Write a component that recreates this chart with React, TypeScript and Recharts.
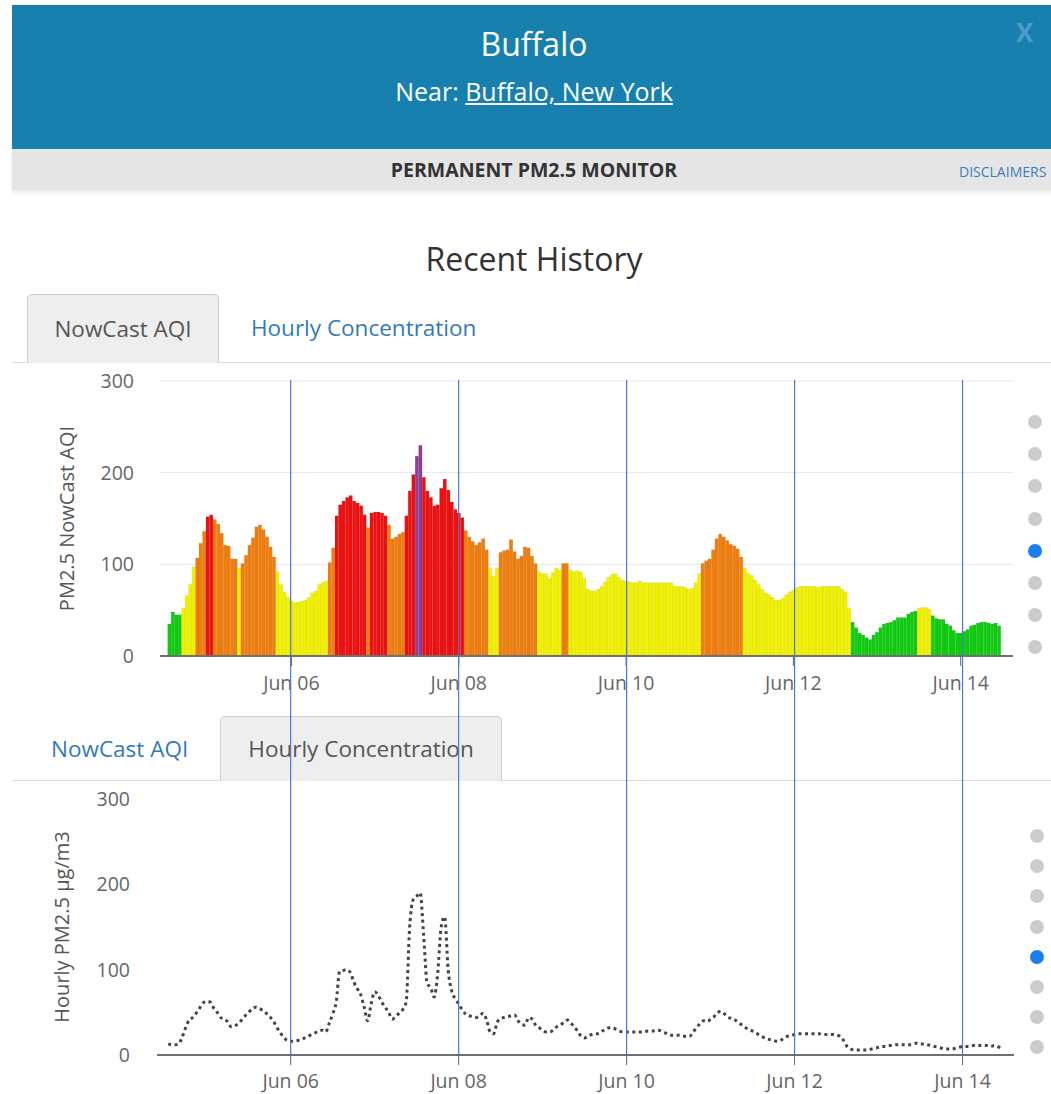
import React from 'react'
import { Bar, BarChart, CartesianGrid, Cell, Line, LineChart, ReferenceLine, XAxis, YAxis } from 'recharts'

// hours counted from Jun 04 00:00, one reading per hour
const startHour = 13

const nowcastAqi = [
  35, 48, 45, 45, 52, 66, 78, 97, 107, 123, 136, 152,
  154, 149, 144, 134, 121, 120, 106, 106, 96, 101, 110, 121,
  129, 141, 143, 138, 130, 119, 108, 92, 78, 70, 64, 60,
  58, 59, 60, 61, 64, 69, 71, 78, 80, 82, 102, 118,
  153, 165, 169, 173, 175, 169, 167, 164, 154, 140, 156, 157,
  157, 156, 153, 143, 128, 130, 133, 135, 153, 180, 198, 218,
  230, 195, 180, 173, 164, 165, 183, 193, 181, 168, 160, 156,
  151, 137, 130, 125, 121, 124, 128, 116, 96, 87, 96, 113,
  115, 116, 127, 114, 106, 109, 119, 118, 109, 101, 92, 90,
  90, 85, 91, 96, 94, 101, 101, 94, 92, 93, 92, 85,
  73, 71, 71, 73, 76, 81, 86, 89, 90, 86, 83, 82,
  81, 80, 80, 82, 80, 80, 80, 80, 80, 80, 80, 80,
  80, 76, 76, 76, 75, 73, 74, 80, 90, 101, 104, 106,
  116, 128, 133, 130, 126, 122, 120, 117, 108, 96, 90, 88,
  83, 78, 73, 69, 67, 64, 61, 61, 63, 67, 70, 72,
  75, 76, 76, 76, 76, 76, 75, 76, 76, 76, 76, 76,
  76, 73, 70, 52, 37, 31, 25, 23, 20, 18, 23, 26,
  31, 35, 36, 37, 39, 42, 42, 42, 46, 48, 49, 52,
  53, 53, 51, 44, 41, 40, 40, 35, 33, 28, 25, 25,
  27, 29, 33, 34, 36, 37, 37, 36, 35, 36, 33,
]

const hourlyPm25 = [
  13, 12, 12, 13, 21, 32, 41, 44, 49, 55, 61, 63,
  62, 55, 50, 44, 42, 39, 33, 34, 37, 41, 46, 50,
  54, 56, 55, 52, 49, 45, 40, 33, 26, 21, 17, 16,
  16, 17, 18, 20, 22, 24, 26, 28, 29, 27, 37, 48,
  62, 98, 99, 100, 97, 86, 78, 71, 56, 40, 60, 74,
  70, 62, 56, 50, 42, 45, 49, 53, 62, 150, 182, 186,
  190, 140, 84, 79, 68, 95, 150, 162, 100, 75, 66, 60,
  53, 48, 46, 45, 44, 46, 49, 41, 27, 25, 38, 43,
  44, 45, 46, 47, 40, 36, 35, 44, 42, 35, 32, 29,
  27, 27, 29, 33, 35, 38, 41, 38, 33, 28, 22, 20,
  22, 24, 25, 25, 28, 30, 32, 32, 30, 28, 27, 27,
  27, 27, 27, 27, 27, 28, 28, 28, 29, 28, 26, 24,
  23, 23, 23, 22, 22, 22, 27, 32, 37, 40, 39, 42,
  45, 50, 51, 48, 44, 43, 41, 38, 35, 32, 30, 28,
  26, 23, 21, 19, 18, 17, 16, 17, 20, 22, 23, 24,
  25, 25, 25, 25, 25, 25, 25, 24, 24, 24, 24, 23,
  22, 17, 10, 7, 6, 6, 6, 6, 6, 7, 8, 9,
  10, 10, 11, 11, 12, 12, 12, 12, 12, 13, 14, 13,
  13, 12, 11, 10, 9, 8, 7, 7, 7, 8, 9, 10,
  10, 10, 11, 11, 11, 11, 11, 10, 11, 10, 8,
]

const dayTicks = [48, 96, 144, 192, 240]
const dayLabels = ['Jun 06', 'Jun 08', 'Jun 10', 'Jun 12', 'Jun 14']
const valueTicks = [0, 100, 200, 300]

const data = nowcastAqi.map((aqi, i) => ({ hour: startHour + i, aqi, pm: hourlyPm25[i] }))

const aqiColor = (v: number) =>
  v > 200 ? '#8f3f97' : v > 150 ? '#ee1111' : v > 100 ? '#ef7e0e' : v > 50 ? '#f1f100' : '#10cc10'

const dayLabel = (v: number) => dayLabels[dayTicks.indexOf(v)] ?? ''

const tickStyle = { fill: '#666', fontSize: 19.5 }
const blue = '#337ab7'

// the lower chart draws the day markers and carries them up through the upper chart
const markerReach = 419

function DayMarker(props: any) {
  const { x1, y1, y2 } = props
  return (
    <line
      x1={x1}
      x2={x1}
      y1={Math.min(y1, y2) - markerReach}
      y2={Math.max(y1, y2)}
      stroke="#4a78d8"
      strokeWidth={1.2}
    />
  )
}

function PagerDots({ left, top, gap }: { left: number; top: number; gap: number }) {
  return (
    <div style={{ position: 'absolute', left, top }}>
      {[0, 1, 2, 3, 4, 5, 6, 7].map((i) => (
        <div
          key={i}
          style={{
            width: 14,
            height: 14,
            borderRadius: 7,
            background: i === 4 ? '#1a7fee' : '#cccccc',
            marginBottom: gap - 14,
          }}
        />
      ))}
    </div>
  )
}

const centered = (top: number, size: number, extra: React.CSSProperties = {}): React.CSSProperties => ({
  position: 'absolute',
  left: 12,
  width: 1044,
  top,
  textAlign: 'center',
  fontSize: size,
  lineHeight: `${Math.round(size * 1.4)}px`,
  whiteSpace: 'nowrap',
  ...extra,
})

export default function App() {
  return (
    <div
      style={{
        position: 'relative',
        width: 1051,
        height: 1094,
        overflow: 'hidden',
        background: '#fff',
        fontFamily: "'Open Sans', sans-serif",
      }}
    >
      <style>{`body{margin:0} .pm-chart .recharts-surface{overflow:visible}`}</style>

      <div style={{ position: 'absolute', left: 12, top: 5, width: 1044, height: 144, background: '#1780ae' }} />
      <div style={centered(21, 32, { color: '#fff' })}>Buffalo</div>
      <div style={centered(74, 25, { color: '#fff' })}>
        Near: <span style={{ textDecoration: 'underline' }}>Buffalo, New York</span>
      </div>
      <div style={{ position: 'absolute', left: 1016, top: 14, fontSize: 26, fontWeight: 700, color: '#4f9dc6' }}>X</div>

      <div style={{ position: 'absolute', left: 12, top: 149, width: 1044, height: 41, background: '#e5e5e5', boxShadow: '0 3px 4px rgba(0,0,0,0.08)' }} />
      <div style={centered(156, 19.5, { color: '#333', fontWeight: 700 })}>PERMANENT PM2.5 MONITOR</div>
      <div style={{ position: 'absolute', left: 959, top: 162, fontSize: 14, color: '#3b7dbf', whiteSpace: 'nowrap' }}>DISCLAIMERS</div>

      <div style={centered(236, 32, { color: '#333' })}>Recent History</div>

      {/* upper tabs */}
      <div style={{ position: 'absolute', left: 12, top: 362, width: 1039, height: 1, background: '#ddd' }} />
      <div
        style={{
          position: 'absolute', left: 27, top: 294, width: 190, height: 68, background: '#eee',
          border: '1px solid #ccc', borderBottom: 'none', borderRadius: '5px 5px 0 0',
          textAlign: 'center', lineHeight: '68px', fontSize: 22.5, color: '#555',
        }}
      >
        NowCast AQI
      </div>
      <div style={{ position: 'absolute', left: 251, top: 313, fontSize: 22.5, lineHeight: '30px', color: blue }}>Hourly Concentration</div>

      <div className="pm-chart" style={{ position: 'absolute', left: 0, top: 370 }}>
        <BarChart width={1051} height={340} data={data} margin={{ top: 11, right: 38, bottom: 14, left: 60 }}>
          <CartesianGrid vertical={false} stroke="#e6e6e6" />
          <XAxis
            type="number"
            dataKey="hour"
            domain={[10.3, 255]}
            allowDataOverflow
            ticks={dayTicks}
            tickFormatter={dayLabel}
            height={40}
            axisLine={{ stroke: '#707070', strokeWidth: 2 }}
            tickLine={{ stroke: '#666' }}
            tickSize={10}
            tickMargin={10}
            tick={tickStyle}
          />
          <YAxis
            domain={[0, 300]}
            ticks={valueTicks}
            width={100}
            axisLine={false}
            tickLine={false}
            tickSize={0}
            tickMargin={26}
            tick={tickStyle}
            label={{
              value: 'PM2.5 NowCast AQI',
              angle: -90,
              position: 'insideLeft',
              offset: 7,
              style: { textAnchor: 'middle', fill: '#555', fontSize: 20 },
            }}
          />
          <Bar dataKey="aqi" barSize={3.45} isAnimationActive={false} stroke="rgba(0,0,0,0.1)" strokeWidth={0.5}>
            {data.map((d) => (
              <Cell key={d.hour} fill={aqiColor(d.aqi)} />
            ))}
          </Bar>
        </BarChart>
      </div>
      <PagerDots left={1028} top={415} gap={32.2} />

      {/* lower tabs */}
      <div style={{ position: 'absolute', left: 12, top: 780, width: 1039, height: 1, background: '#ddd' }} />
      <div style={{ position: 'absolute', left: 51, top: 734, fontSize: 22.5, lineHeight: '30px', color: blue }}>NowCast AQI</div>
      <div
        style={{
          position: 'absolute', left: 220, top: 716, width: 280, height: 64, background: '#eee',
          border: '1px solid #ccc', borderBottom: 'none', borderRadius: '5px 5px 0 0',
          textAlign: 'center', lineHeight: '64px', fontSize: 22.5, color: '#555',
        }}
      >
        Hourly Concentration
      </div>

      <div className="pm-chart" style={{ position: 'absolute', left: 0, top: 785 }}>
        <LineChart width={1051} height={305} data={data} margin={{ top: 14, right: 37, bottom: 5, left: 57 }}>
          <XAxis
            type="number"
            dataKey="hour"
            domain={[9.8, 254.7]}
            allowDataOverflow
            ticks={dayTicks}
            tickFormatter={dayLabel}
            height={30}
            axisLine={{ stroke: '#707070', strokeWidth: 2 }}
            tickLine={{ stroke: '#666' }}
            tickSize={10}
            tickMargin={9}
            tick={tickStyle}
          />
          <YAxis
            domain={[0, 300]}
            ticks={valueTicks}
            width={100}
            axisLine={false}
            tickLine={false}
            tickSize={0}
            tickMargin={27}
            tick={tickStyle}
            label={{
              value: 'Hourly PM2.5 µg/m3',
              angle: -90,
              position: 'insideLeft',
              offset: 5,
              style: { textAnchor: 'middle', fill: '#555', fontSize: 20 },
            }}
          />
          <Line
            type="monotone"
            dataKey="pm"
            stroke="#444"
            strokeWidth={3}
            strokeDasharray="3 3.5"
            dot={false}
            isAnimationActive={false}
          />
          {dayTicks.map((t) => (
            <ReferenceLine key={t} x={t} ifOverflow="visible" shape={DayMarker} />
          ))}
        </LineChart>
      </div>
      <PagerDots left={1030} top={829} gap={30.2} />
    </div>
  )
}
